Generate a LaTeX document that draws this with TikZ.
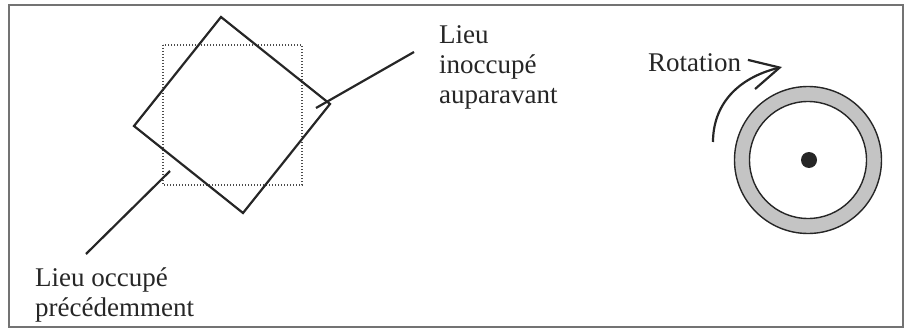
\documentclass[tikz,border=0pt]{standalone}
\usepackage{fontspec}
\setmainfont{Liberation Serif}
\usetikzlibrary{arrows.meta}

\begin{document}
\begin{tikzpicture}[x=1pt, y=-1pt, line width=2.2pt, color=black!85,
    font=\fontsize{27}{29.7}\selectfont]
    \useasboundingbox (0,0) rectangle (906,329);
    % 外框
    \draw[line width=1.5pt, black!55] (9,5) rectangle (903,327);

    % 原来的位置（点线方块）
    \draw[line width=1.3pt, dash pattern=on 1.3pt off 1.7pt, black!70] (163,45) rectangle (302,185);

    % 旋转后的方块
    \coordinate (T) at (221,17);
    \coordinate (R) at (330,104);
    \coordinate (B) at (243,213);
    \coordinate (L) at (134,126);
    \draw (T) -- (R) -- (B) -- (L) -- cycle;

    % 标注（基线取最后一行）
    \node[anchor=base west, align=left, inner sep=0pt] (inoc) at (438,103) {Lieu\\inoccupé\\auparavant};
    \node[anchor=base west, align=left, inner sep=0pt] (occ) at (34,316) {Lieu occupé\\précédemment};
    \coordinate (inoc-a) at (414,52);
    \coordinate (inoc-b) at (316,108);
    \draw (inoc-a) -- (inoc-b);
    \coordinate (occ-a) at (170,171);
    \coordinate (occ-b) at (86,254);
    \draw (occ-a) -- (occ-b);

    % 转轮与旋转方向
    \draw[fill=black!23, line width=1.4pt] (808,160) circle (73.5pt);
    \draw[fill=white, line width=1.4pt] (808,160) circle (58.5pt);
    \fill (809,160) circle (8pt);
    \node[anchor=base west, inner sep=0pt] (rot) at (647,72) {Rotation};
    \draw[-{Straight Barb[length=29pt, width=30pt]}] (713,142) .. controls (713,105) and (737,78) .. (782,67);
\end{tikzpicture}
\end{document}
